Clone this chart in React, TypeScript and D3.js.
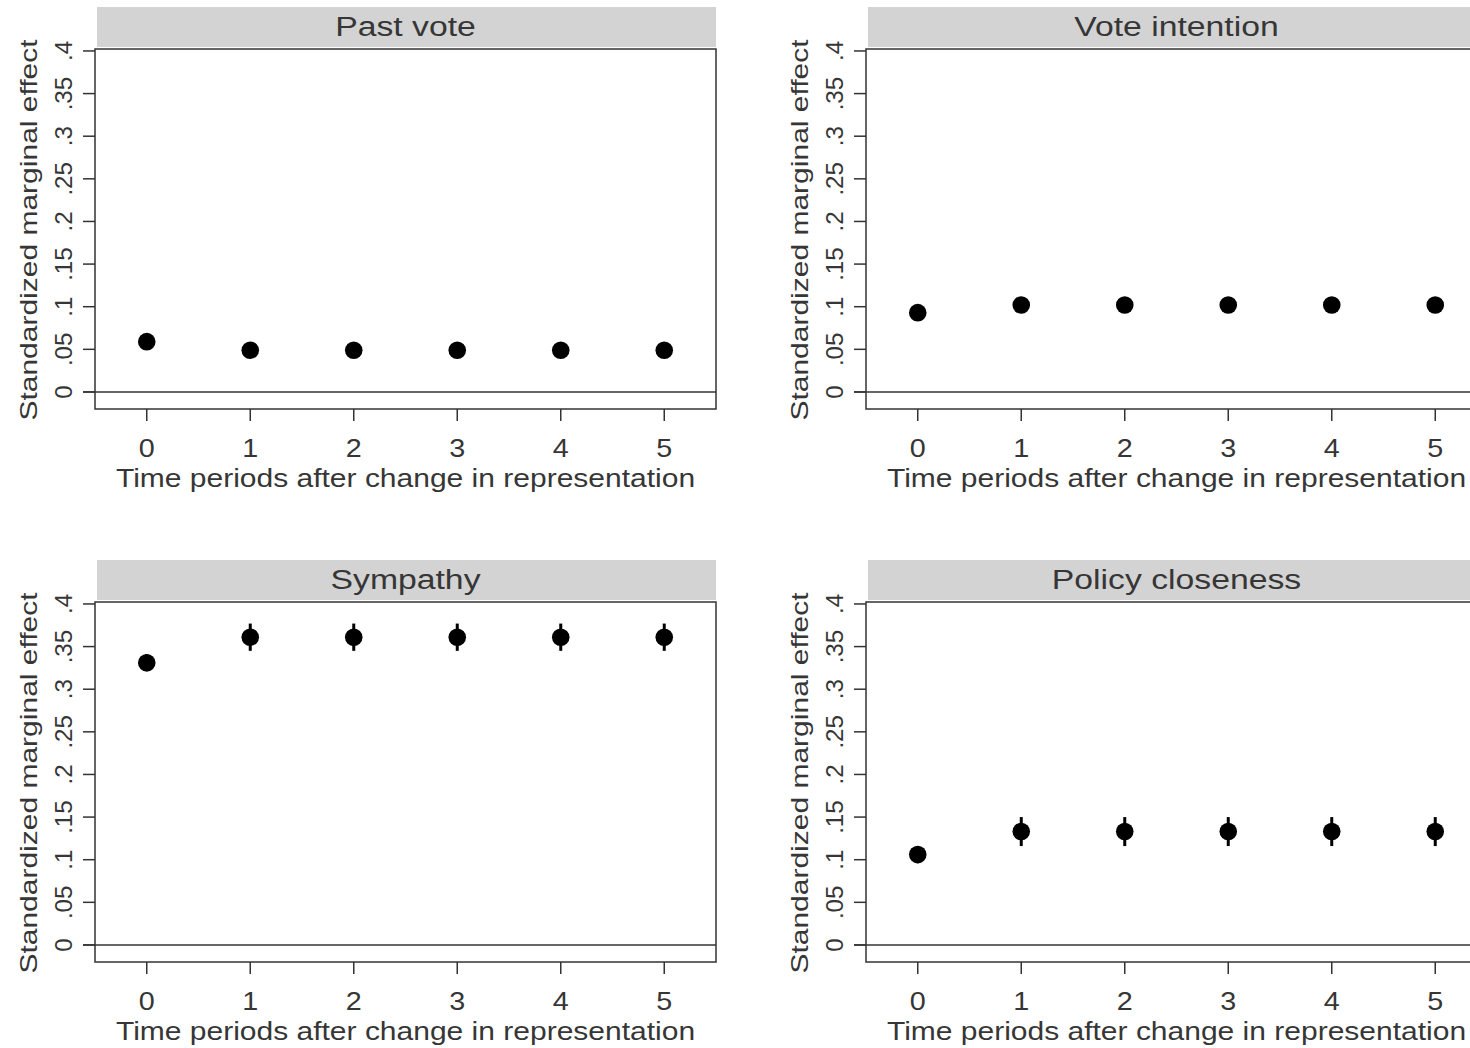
import React from "react";
import * as d3 from "d3";

const periods = [0, 1, 2, 3, 4, 5];
const panelTitles = ["Past vote", "Vote intention", "Sympathy", "Policy closeness"];
const pastVote = [0.059, 0.049, 0.049, 0.049, 0.049, 0.049];
const pastVoteCI = [0.004, 0.003, 0.003, 0.003, 0.003, 0.003];
const voteIntention = [0.093, 0.102, 0.102, 0.102, 0.102, 0.102];
const voteIntentionCI = [0.004, 0.004, 0.004, 0.004, 0.004, 0.004];
const sympathy = [0.331, 0.361, 0.361, 0.361, 0.361, 0.361];
const sympathyCI = [0.01, 0.016, 0.016, 0.016, 0.016, 0.016];
const policy = [0.106, 0.133, 0.133, 0.133, 0.133, 0.133];
const policyCI = [0.01, 0.017, 0.017, 0.017, 0.017, 0.017];
const yTicks = [0, 0.05, 0.1, 0.15, 0.2, 0.25, 0.3, 0.35, 0.4];
const yTickLabels = ["0", ".05", ".1", ".15", ".2", ".25", ".3", ".35", ".4"];
const xTitle = "Time periods after change in representation";
const yTitle = "Standardized marginal effect";

const seriesList = [
  { values: pastVote, ci: pastVoteCI },
  { values: voteIntention, ci: voteIntentionCI },
  { values: sympathy, ci: sympathyCI },
  { values: policy, ci: policyCI },
];

const W = 621;
const H = 360;
const FONT = "'Liberation Sans', Arial, sans-serif";
const TXT = "#363636";
const LINE = "#333";

function Panel({ x0, y0, title, values, ci }) {
  const x = d3.scaleLinear().domain([-0.5, 5.5]).range([0, W]);
  const y = d3.scaleLinear().domain([-0.02, 0.4023]).range([H, 0]);
  return (
    <g transform={`translate(${x0},${y0})`}>
      <rect x={2} y={-42} width={W - 2} height={40} fill="#d3d3d3" />
      <text
        transform={`translate(${W / 2},${-13}) scale(1.25,1)`}
        textAnchor="middle"
        fontSize={27}
        fill={TXT}
        fontFamily={FONT}
      >
        {title}
      </text>
      <rect x={0} y={0} width={W} height={H} fill="white" stroke={LINE} strokeWidth={1.5} />
      <line x1={-12} x2={W} y1={y(0)} y2={y(0)} stroke={LINE} strokeWidth={1.5} />
      {yTicks.map((t, i) => (
        <g key={i}>
          <line x1={-12} x2={0} y1={y(t)} y2={y(t)} stroke={LINE} strokeWidth={1.5} />
          <text
            transform={`translate(${-23},${y(t)}) rotate(-90) scale(1.05,1)`}
            textAnchor="middle"
            fontSize={23}
            fill={TXT}
            fontFamily={FONT}
          >
            {yTickLabels[i]}
          </text>
        </g>
      ))}
      <text
        transform={`translate(${-58},${H / 2 + 1}) rotate(-90) scale(1.25,1)`}
        textAnchor="middle"
        fontSize={24}
        fill={TXT}
        fontFamily={FONT}
      >
        {yTitle}
      </text>
      {periods.map((p) => (
        <g key={p}>
          <line x1={x(p)} x2={x(p)} y1={H} y2={H + 12} stroke={LINE} strokeWidth={1.5} />
          <text
            transform={`translate(${x(p)},${H + 48}) scale(1.15,1)`}
            textAnchor="middle"
            fontSize={25}
            fill={TXT}
            fontFamily={FONT}
          >
            {p}
          </text>
        </g>
      ))}
      <text
        transform={`translate(${W / 2},${H + 78}) scale(1.2,1)`}
        textAnchor="middle"
        fontSize={25}
        fill={TXT}
        fontFamily={FONT}
      >
        {xTitle}
      </text>
      {periods.map((p, i) => (
        <g key={"pt" + p}>
          <line
            x1={x(p)}
            x2={x(p)}
            y1={y(values[i] - ci[i])}
            y2={y(values[i] + ci[i])}
            stroke="black"
            strokeWidth={3}
          />
          <circle cx={x(p)} cy={y(values[i])} r={8.8} fill="black" />
        </g>
      ))}
    </g>
  );
}

export default function App() {
  const xs = [95, 866];
  const ys = [49, 602];
  return (
    <svg
      width={1470}
      height={1048}
      style={{ position: "absolute", left: 0, top: 0, background: "white" }}
    >
      <rect width={1470} height={1048} fill="white" />
      {seriesList.map((s, i) => (
        <Panel
          key={i}
          x0={xs[i % 2]}
          y0={ys[Math.floor(i / 2)]}
          title={panelTitles[i]}
          values={s.values}
          ci={s.ci}
        />
      ))}
    </svg>
  );
}
